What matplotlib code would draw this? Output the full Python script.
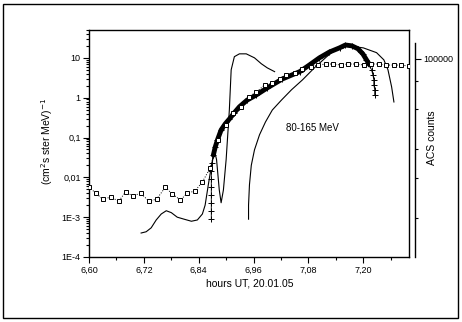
import matplotlib
matplotlib.use("Agg")
import matplotlib.pyplot as plt
from matplotlib.patches import Rectangle
from matplotlib.ticker import FixedLocator, FixedFormatter, LogLocator, NullFormatter, MultipleLocator, FuncFormatter

plt.rcParams['font.family'] = ['Liberation Sans', 'DejaVu Sans']

# ACS counts (right axis)
acs_t = [6.600, 6.615, 6.630, 6.648, 6.665, 6.680, 6.696, 6.713, 6.731, 6.748,
         6.767, 6.782, 6.800, 6.815, 6.832, 6.848, 6.865, 6.883, 6.900, 6.916,
         6.933, 6.949, 6.966, 6.984, 7.001, 7.017, 7.032, 7.050, 7.067, 7.085,
         7.100, 7.118, 7.134, 7.151, 7.166, 7.184, 7.201, 7.216, 7.234, 7.249,
         7.267, 7.282, 7.300]
acs_counts = [27200, 25600, 24100, 24600, 23600, 25900, 24900, 25600, 23600, 24100,
              27200, 25400, 23900, 25600, 26200, 28700, 33000, 43900, 51100, 57700,
              61300, 67900, 71400, 76700, 78300, 81500, 84900, 86600, 90200, 92000,
              93900, 94900, 94900, 93900, 94900, 94900, 93900, 94900, 94900, 93900,
              93900, 93900, 93000]

# intensity 80-165 MeV ("+" series)
plus_t = [6.8675, 6.8675, 6.8675, 6.8675, 6.8675, 6.8675, 6.8675, 6.870, 6.872, 6.876,
          6.881, 6.889, 6.898, 6.907, 6.918, 6.929, 6.946, 6.966, 6.990, 7.023,
          7.061, 7.082, 7.104, 7.126, 7.148, 7.161, 7.175, 7.188, 7.199, 7.207,
          7.214, 7.218, 7.221, 7.223, 7.223, 7.225, 7.225]
plus_v = [8.9e-4, 1.45e-3, 2.3e-3, 3.6e-3, 5.8e-3, 9.1e-3, 0.0145, 0.023, 0.036, 0.057,
          0.087, 0.155, 0.22, 0.29, 0.42, 0.59, 0.87, 1.17, 1.76, 2.95,
          4.5, 6.6, 10.0, 14.0, 17.8, 21.0, 20.0, 17.0, 12.6, 8.9,
          6.6, 5.0, 3.7, 2.8, 2.1, 1.58, 1.17]
dense_from, dense_to = 8, 31

# first model curve
m1_t = [6.714, 6.725, 6.736, 6.747, 6.758, 6.769, 6.780, 6.793, 6.808, 6.824,
        6.837, 6.848, 6.854, 6.861, 6.868, 6.874, 6.879, 6.885, 6.889, 6.894,
        6.900, 6.907, 6.911, 6.918, 6.929, 6.944, 6.962, 6.977, 6.990, 7.006]
m1_v = [4.0e-4, 4.3e-4, 5.4e-4, 8.5e-4, 1.2e-3, 1.45e-3, 1.3e-3, 1.0e-3, 8.9e-4, 7.9e-4,
        8.5e-4, 1.2e-3, 2.0e-3, 6.5e-3, 0.020, 0.049, 0.028, 4.8e-3, 2.3e-3, 4.8e-3,
        0.028, 0.49, 5.0, 10.7, 12.6, 12.6, 10.0, 7.1, 5.6, 4.5]

# second model curve
m2_t = [6.949, 6.949, 6.951, 6.955, 6.962, 6.973, 6.986, 7.001, 7.021, 7.043,
        7.067, 7.093, 7.120, 7.144, 7.161, 7.181, 7.200, 7.229, 7.245, 7.254,
        7.262, 7.267]
m2_v = [8.9e-4, 2.0e-3, 6.5e-3, 0.020, 0.049, 0.117, 0.245, 0.49, 0.87, 1.58,
        2.8, 5.6, 10.7, 17.8, 21.0, 19.0, 17.8, 13.5, 8.9, 5.0,
        1.86, 0.78]

left_ticks = [1e-4, 1e-3, 1e-2, 1e-1, 1, 10]
left_labels = ["1E-4", "1E-3", "0,01", "0,1", "1", "10"]

fig = plt.figure(figsize=(4.62, 3.22), dpi=100)
fig.patches.append(Rectangle((3/462, 1-318/322), 455/462, 314/322, transform=fig.transFigure,
                             fill=False, edgecolor='black', linewidth=1.0))

ax = fig.add_axes([89/462, 1-257/322, 320/462, 227/322])
ax.set_xlim(6.60, 7.30)
ax.set_yscale('log')
ax.set_ylim(1e-4, 50)

ax.plot(m1_t, m1_v, color='black', lw=0.8)
ax.plot(m2_t, m2_v, color='black', lw=0.8)
ax.plot(plus_t, plus_v, color='black', lw=0.6, marker='+', ms=4, mew=0.7)
ax.plot(plus_t[dense_from:dense_to], plus_v[dense_from:dense_to], color='black', lw=3.5,
        solid_capstyle='round')

ax.yaxis.set_major_locator(FixedLocator(left_ticks))
ax.yaxis.set_major_formatter(FixedFormatter(left_labels))
ax.yaxis.set_minor_locator(LogLocator(base=10, subs=range(2, 10)))
ax.yaxis.set_minor_formatter(NullFormatter())
ax.xaxis.set_major_locator(MultipleLocator(0.12))
ax.xaxis.set_minor_locator(MultipleLocator(0.06))
ax.xaxis.set_major_formatter(FuncFormatter(lambda v, p: ("%.2f" % v).replace('.', ',')))
ax.tick_params(which='both', direction='out', labelsize=6.5, width=0.8, pad=2)
ax.tick_params(which='major', length=4)
ax.tick_params(which='minor', length=2.5)
for s in ax.spines.values():
    s.set_linewidth(1.0)

ax.text(7.089, 0.17, "80-165 MeV", fontsize=7, ha='center', va='center')
fig.text(250/462, 1-284/322, "hours UT, 20.01.05", fontsize=7.5, ha='center', va='center')
fig.text(47/462, 1-141/322, "(cm$^2$s ster MeV)$^{-1}$", fontsize=7.5, rotation=90,
         ha='center', va='center')

ax2 = ax.twinx()
ax2.set_yscale('log')
ax2.set_ylim(1.34e4, 1.34e5)
ax2.plot(acs_t, acs_counts, color='black', lw=0.7, ls=':', marker='s', ms=3.5,
         mfc='white', mec='black', mew=0.7)
for k in ['left', 'top', 'bottom']:
    ax2.spines[k].set_visible(False)
ax2.spines['right'].set_position(('outward', 4))
ax2.spines['right'].set_bounds(1.34e4, 1.176e5)
ax2.spines['right'].set_linewidth(1.0)
ax2.yaxis.set_major_locator(FixedLocator([1e5]))
ax2.yaxis.set_major_formatter(FixedFormatter(["100000"]))
ax2.yaxis.set_minor_locator(FixedLocator([2e4, 3e4, 4e4, 6e4, 8e4]))
ax2.yaxis.set_minor_formatter(NullFormatter())
ax2.tick_params(which='both', direction='out', labelsize=6.5, width=0.8, pad=2)
ax2.tick_params(which='major', length=4)
ax2.tick_params(which='minor', length=2.5)
fig.text(432/462, 1-138/322, "ACS counts", fontsize=7.5, rotation=90, ha='center', va='center')

fig.savefig("out.png", dpi=100)
